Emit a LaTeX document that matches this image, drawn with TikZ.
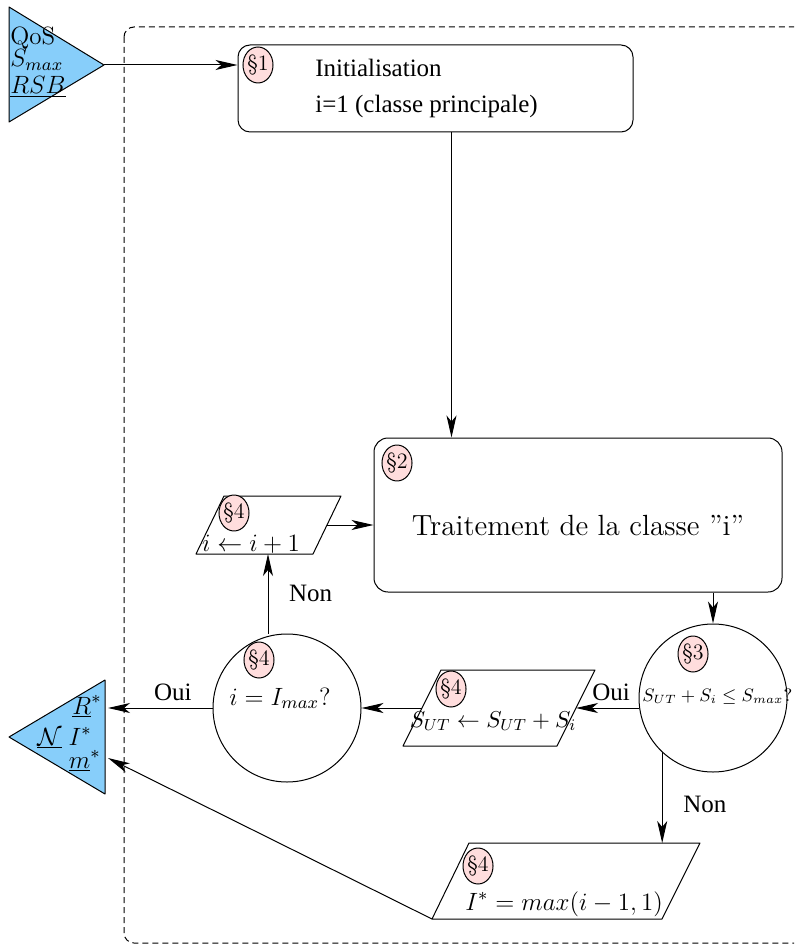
\RequirePackage{fix-cm}
\documentclass[tikz,border=0pt]{standalone}
\usepackage{fontspec}
\newfontfamily\timesfont{Liberation Serif}
\usetikzlibrary{shapes.geometric,arrows.meta}
\definecolor{skyblue}{RGB}{135,206,250}
\definecolor{pinksec}{RGB}{255,221,221}

\begin{document}
\begin{tikzpicture}[x=0.5pt, y=-0.5pt]
  \tikzstyle{myline}=[black, line width=0.5pt, line join=round];
  \tikzstyle{fl}=[myline, -{Stealth[length=11pt, width=5pt, inset=3pt]}];
  \tikzstyle{box}=[myline, draw, rectangle, inner sep=0pt];
  \tikzstyle{dec}=[myline, draw, circle, minimum size=74pt, inner sep=0pt];
  \tikzstyle{io}=[myline, fill=white];
  \tikzstyle{sec}=[myline, draw, ellipse, fill=pinksec, inner sep=0pt,
    minimum width=14pt, minimum height=18pt, font=\fontsize{11}{13}\selectfont];
  \tikzstyle{txt}=[inner sep=0pt, font=\fontsize{12.5}{15}\selectfont];
  \tikzstyle{tms}=[font=\timesfont\fontsize{12.5}{15}\selectfont];
  \tikzstyle{tri}=[myline, fill=skyblue];
  \useasboundingbox (0,0) rectangle (794,945);
  %
  % dashed frame, runs out of the page on the right
  \begin{scope}
    \clip (0,0) rectangle (794,945);
    \draw[myline, dash pattern=on 3pt off 2pt, rounded corners=5pt]
    (124,27) rectangle (830,943);
  \end{scope}
  %
  % input
  \draw[tri] (9,7) -- (104,65) -- (9,122) -- cycle;
  \coordinate (inTip) at (104,65);
  \node[txt, anchor=base west] (inQ) at (10,45) {QoS};
  \node[txt, anchor=base west] (inS) at (10,67) {$S_{max}$};
  \node[txt, anchor=base west] (inR) at (10,94) {$\underline{RSB}$};
  %
  % output
  \draw[tri] (105,680) -- (105,794) -- (9,737) -- cycle;
  \coordinate (outEdge) at (108,737);
  \coordinate (outM) at (108,758);
  \node[txt, anchor=base east] (outR) at (102,714) {$\underline{R}^*$};
  \node[txt, anchor=base west] (outN) at (37,745) {$\underline{\mathcal{N}}\;I^*$};
  \node[txt, anchor=base east] (outm) at (101,768) {$\underline{m}^*$};
  %
  % initialisation
  \node[box, rounded corners=6pt, minimum width=197.5pt, minimum height=43.5pt,
    align=left, tms] (init) at (435.5,88.5)
    {Initialisation\\[3pt] i=1 (classe principale)\kern9pt};
  \node[sec] (s1) at (258,65) {\S1};
  %
  % class treatment
  \node[box, rounded corners=7pt, minimum width=204pt, minimum height=77pt]
    (trait) at (578,515) {};
  \node[font=\fontsize{14.6}{17}\selectfont, anchor=base] (traitT) at (578,535)
    {Traitement de la classe ”i”};
  \node[sec] (s2) at (397,463) {\S2};
  %
  % tests
  \node[dec] (cmp) at (713,698) {};
  \node[sec] (s3) at (693,654) {\S3};
  \node[inner sep=0pt, font=\fontsize{9}{11}\selectfont, anchor=base west]
    (cmpT) at (642,701) {$S_{UT}+S_i\leq S_{max}?$};
  \node[dec] (last) at (287,708) {};
  \node[sec] (s4c) at (259,660) {\S4};
  \node[txt, anchor=base] (lastT) at (280,705) {$i=I_{max}?$};
  %
  % i <- i+1
  \coordinate (incBL) at (196,554);
  \coordinate (incBR) at (313,554);
  \coordinate (incTR) at (341,496);
  \coordinate (incTL) at (224,496);
  \coordinate (incE) at (327,525);
  \coordinate (incS) at (268,554);
  \draw[io] (incBL) -- (incBR) -- (incTR) -- (incTL) -- cycle;
  \node[sec] (s4a) at (234,513) {\S4};
  \node[txt, anchor=base] (incT) at (251,551) {$i\leftarrow i+1$};
  %
  % S_UT update
  \coordinate (accBL) at (403,746);
  \coordinate (accBR) at (557,746);
  \coordinate (accTR) at (595,670);
  \coordinate (accTL) at (441,670);
  \coordinate (accE) at (576,708);
  \coordinate (accW) at (422,708);
  \draw[io] (accBL) -- (accBR) -- (accTR) -- (accTL) -- cycle;
  \node[sec] (s4b) at (451,689) {\S4};
  \node[inner sep=0pt, font=\fontsize{11.5}{14}\selectfont, anchor=base]
    (accT) at (493,727) {$S_{UT}\leftarrow S_{UT}+S_i$};
  %
  % result
  \coordinate (resBL) at (432,919);
  \coordinate (resBR) at (662,919);
  \coordinate (resTR) at (700,843);
  \coordinate (resTL) at (469,843);
  \coordinate (resN) at (584,843);
  \draw[io] (resBL) -- (resBR) -- (resTR) -- (resTL) -- cycle;
  \node[sec] (s4d) at (478,866) {\S4};
  \node[txt, anchor=base west] (resT) at (465,910) {$I^*=max(i-1,1)$};
  %
  % connectors
  \draw[fl] (inTip) -- (inTip -| init.west);
  \draw[fl] ([xshift=8pt]init.south) -- ([xshift=8pt]init.south |- trait.north);
  \draw[fl] (cmp.north |- trait.south) -- (cmp.north);
  \draw[fl] (cmp.west |- accE) -- (accE)
    node[tms, pos=0.44, above] (oui1) {Oui};
  \draw[fl] (accW) -- (last.east);
  \draw[fl] (last.west) -- (last.west -| outEdge)
    node[tms, pos=0.38, above] (oui2) {Oui};
  \draw[fl] (incS |- last.north) -- (incS)
    node[tms, pos=0.5, right=7pt] (non1) {Non};
  \draw[fl] (incE) -- (incE -| trait.west);
  \draw[fl] (cmp.227) -- (cmp.227 |- resN)
    node[tms, pos=0.57, right=7pt] (non2) {Non};
  \draw[fl] (resBL) -- (outM);
\end{tikzpicture}
\end{document}
